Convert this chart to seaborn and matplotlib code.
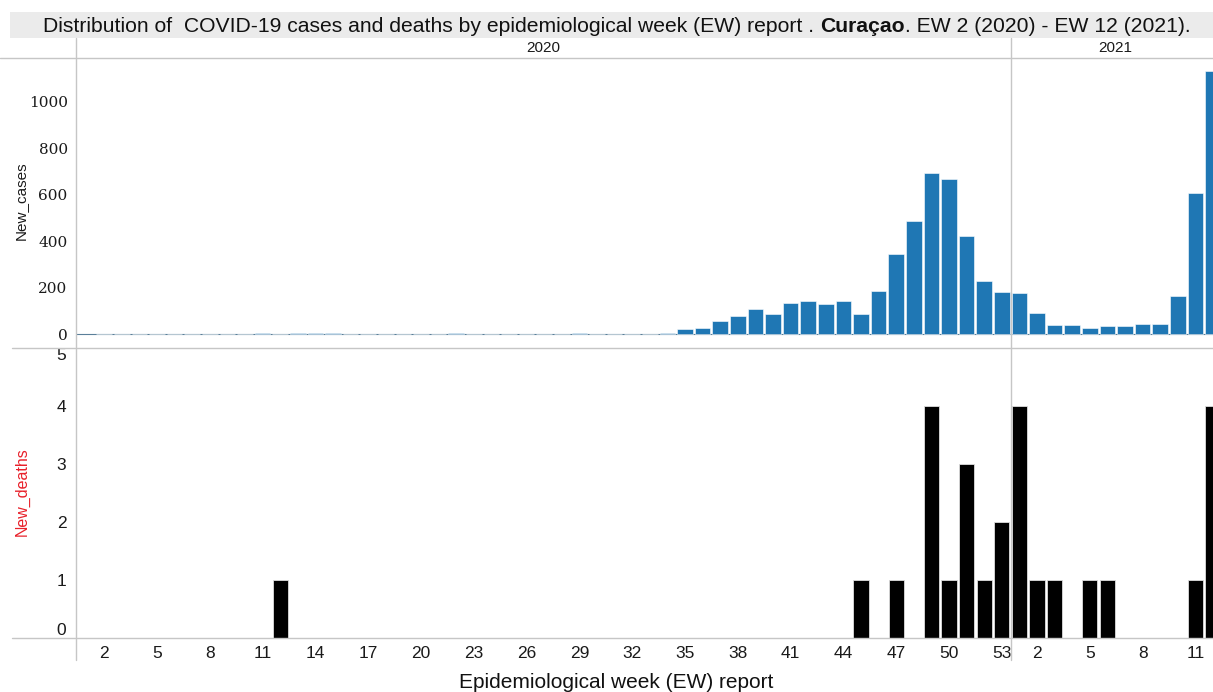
import matplotlib
matplotlib.use('Agg')
import matplotlib.pyplot as plt
from matplotlib.lines import Line2D
from matplotlib.patches import Rectangle
import seaborn as sns
import pandas as pd


weeks_2020 = list(range(2, 54))
weeks_2021 = list(range(1, 13))

cases_2020 = [0, 0, 0, 0, 0, 0, 0, 0, 0,
              3, 1, 4, 5, 4,
              0, 0, 0, 0, 0, 0,
              3,
              0, 0, 0, 0, 0, 0,
              4,
              0, 0, 0, 0,
              3,
              20, 24, 57, 77, 108, 85, 133, 142, 129, 142, 88, 187,
              346, 486, 694, 666, 422, 228, 179]
cases_2021 = [175, 92, 39, 39, 24, 34, 34, 43, 43, 164, 608, 1132]

deaths_2020 = {12: 1, 45: 1, 47: 1, 49: 4, 50: 1, 51: 3, 52: 1, 53: 2}
deaths_2021 = {1: 4, 2: 1, 3: 1, 5: 1, 6: 1, 11: 1, 12: 4}

W, H = 1213, 692
BLUE = '#1f77b4'
LINE = '#c6c6c6'


def fx(px):
    return px / W


def fy(py):
    return 1 - py / H


'''DataFrame'''

rows = []
for w, c in zip(weeks_2020, cases_2020):
    rows.append(('2020', w, c, deaths_2020.get(w, 0)))
for w, c in zip(weeks_2021, cases_2021):
    rows.append(('2021', w, c, deaths_2021.get(w, 0)))
df = pd.DataFrame(rows, columns=['year', 'week', 'New_cases', 'New_deaths'])
df['key'] = df['year'] + '-' + df['week'].astype(str).str.zfill(2)
order = list(df['key'])

sns.set_style('white')
plt.rcParams['font.family'] = ['Liberation Sans', 'DejaVu Sans']

fig = plt.figure(figsize=(W / 100, H / 100), dpi=100)

ax1 = fig.add_axes([fx(76), fy(348), fx(W) - fx(76), fy(58) - fy(348)])
ax2 = fig.add_axes([fx(76), fy(638), fx(W) - fx(76), fy(348) - fy(638)])

sns.barplot(data=df, x='key', y='New_cases', order=order, color=BLUE, saturation=1,
            width=0.89, edgecolor='white', linewidth=0.4, errorbar=None, ax=ax1)
sns.barplot(data=df, x='key', y='New_deaths', order=order, color='black', saturation=1,
            width=0.87, edgecolor='#dddddd', linewidth=0.6, errorbar=None, ax=ax2)

# baseline of zero-height bars in the cases panel
ax1.axhline(0, color='#5a7f99', lw=0.8, zorder=0)

for ax in (ax1, ax2):
    ax.set_xlim(-1.6, 63.0)
    for s in ax.spines.values():
        s.set_visible(False)
    ax.set_xlabel('')
    ax.set_ylabel('')
    ax.patch.set_alpha(0)

ax1.set_ylim(-60, 1188)
ax1.set_xticks([])
ax1.set_yticks([0, 200, 400, 600, 800, 1000])
ax1.tick_params(axis='y', length=4, width=0.8, color=LINE, pad=2, labelsize=11)
for lab in ax1.get_yticklabels():
    lab.set_family(['DejaVu Serif'])
    lab.set_color('#1a1a1a')

ax2.set_ylim(0, 5)
ax2.set_yticks(range(6))
ax2.tick_params(axis='y', length=4, width=0.8, color=LINE, pad=3, labelsize=12.5)
ylabs = ax2.get_yticklabels()
ylabs[0].set_va('bottom')
ylabs[-1].set_va('top')
for lab in ylabs:
    lab.set_color('#1a1a1a')

tick_pos = [i for i, w in enumerate(df['week']) if w % 3 == 2]
ax2.set_xticks(tick_pos)
ax2.set_xticklabels([str(df['week'][i]) for i in tick_pos])
ax2.tick_params(axis='x', length=0, pad=6, labelsize=12.5, labelcolor='#1a1a1a')

# frame lines
def hline(y, x0, x1):
    fig.add_artist(Line2D([fx(x0), fx(x1)], [fy(y), fy(y)], color=LINE, lw=1))


def vline(x, y0, y1):
    fig.add_artist(Line2D([fx(x), fx(x)], [fy(y0), fy(y1)], color=LINE, lw=1))


hline(58, 0, W)
hline(348, 12, W)
hline(638, 12, W)
vline(76, 38, 660)
vline(1011, 38, 660)

# title band
fig.add_artist(Rectangle((fx(10), fy(38)), fx(W) - fx(10), fy(12) - fy(38),
                         facecolor='#ebebeb', edgecolor='none', zorder=0))

parts = [('Distribution of  COVID-19 cases and deaths by epidemiological week (EW) report . ', 'normal'),
         ('Curaçao', 'bold'),
         ('. EW 2 (2020) - EW 12 (2021).', 'normal')]
texts = [fig.text(0, fy(26), t, fontsize=15.2, fontweight=fw, va='center', ha='left', color='#111111')
         for t, fw in parts]
fig.canvas.draw()
r = fig.canvas.get_renderer()
widths = [t.get_window_extent(r).width for t in texts]
x = 617 - sum(widths) / 2
for t, wd in zip(texts, widths):
    t.set_x(fx(x))
    x += wd

fig.text(fx(543), fy(48), '2020', fontsize=11, ha='center', va='center', color='#1a1a1a')
fig.text(fx(1115), fy(48), '2021', fontsize=11, ha='center', va='center', color='#1a1a1a')

fig.text(fx(21), fy(201), 'New_cases', fontsize=11, rotation=90, ha='center', va='center', color='#1a1a1a')
fig.text(fx(22), fy(492), 'New_deaths', fontsize=11.5, rotation=90, ha='center', va='center', color='#e8202a')
fig.text(fx(616), fy(682), 'Epidemiological week (EW) report', fontsize=15, ha='center', va='center', color='#111111')

fig.savefig('out.png', dpi=100)
